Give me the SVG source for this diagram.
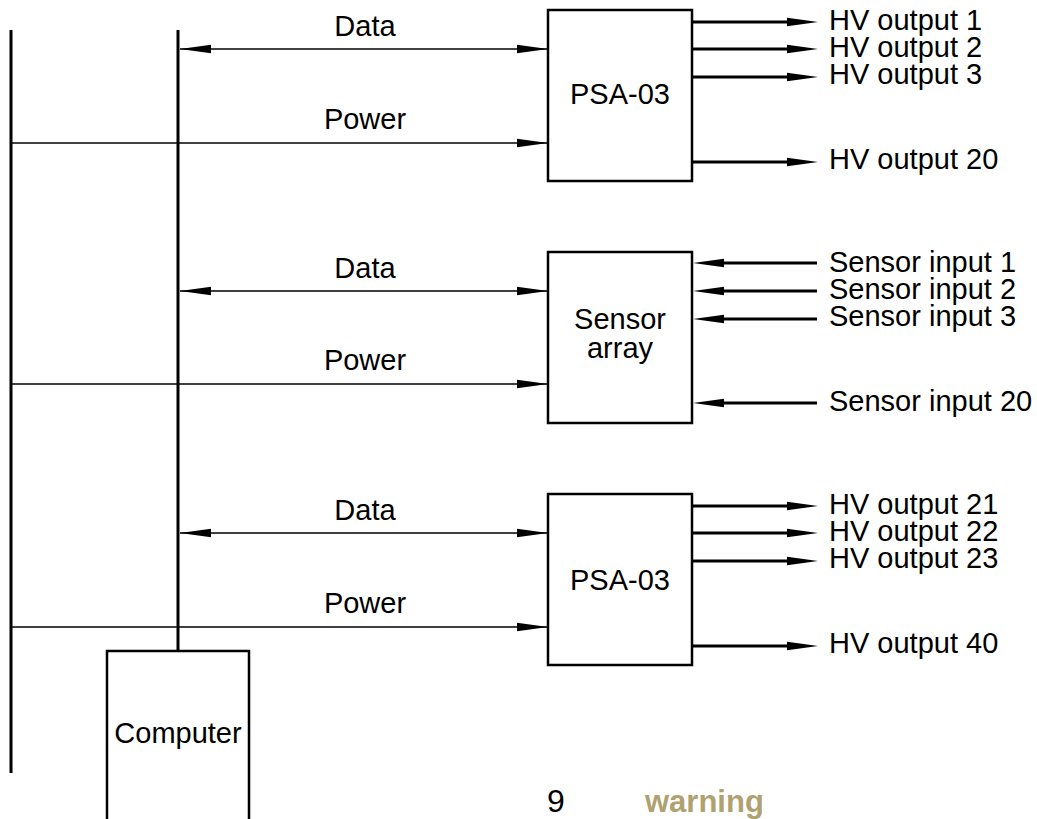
<svg xmlns="http://www.w3.org/2000/svg" xmlns:xlink="http://www.w3.org/1999/xlink" width="1037" height="819" viewBox="0 0 1037 819">
<style>
text{font-family:"Liberation Sans",Arial,sans-serif;font-size:29px;fill:#000}
.c{text-anchor:middle}
.box{fill:#fff;stroke:#000;stroke-width:2.5}
.bus{stroke:#000;stroke-width:3;fill:none}
.thin{stroke:#000;stroke-width:1.4;fill:none}
.thick{stroke:#000;stroke-width:3;fill:none}
.warn{font-weight:bold;fill:#B0A270;font-size:31px}
</style>
<defs>
<path id="ah" d="M0,0 L-31,-4.2 L-31,4.2 Z" fill="#000"/>
</defs>
<g id="connectors">
  <line class="bus" x1="11" y1="30" x2="11" y2="773"/>
  <line class="bus" x1="178" y1="30" x2="178" y2="651"/>
  <line class="thin" x1="180" y1="49" x2="548" y2="49"/>
  <use xlink:href="#ah" transform="translate(180,49) scale(-1,1)"/>
  <use xlink:href="#ah" transform="translate(548,49)"/>
  <line class="thin" x1="11" y1="143" x2="548" y2="143"/>
  <use xlink:href="#ah" transform="translate(548,143)"/>
  <line class="thick" x1="692" y1="22" x2="790" y2="22"/><use xlink:href="#ah" transform="translate(818,22)"/>
  <line class="thick" x1="692" y1="49" x2="790" y2="49"/><use xlink:href="#ah" transform="translate(818,49)"/>
  <line class="thick" x1="692" y1="77" x2="790" y2="77"/><use xlink:href="#ah" transform="translate(818,77)"/>
  <line class="thick" x1="692" y1="162" x2="790" y2="162"/><use xlink:href="#ah" transform="translate(818,162)"/>
  <line class="thin" x1="180" y1="291" x2="548" y2="291"/>
  <use xlink:href="#ah" transform="translate(180,291) scale(-1,1)"/>
  <use xlink:href="#ah" transform="translate(548,291)"/>
  <line class="thin" x1="11" y1="384" x2="548" y2="384"/>
  <use xlink:href="#ah" transform="translate(548,384)"/>
  <line class="thick" x1="720" y1="263" x2="817" y2="263"/><use xlink:href="#ah" transform="translate(693,263) scale(-1,1)"/>
  <line class="thick" x1="720" y1="291" x2="817" y2="291"/><use xlink:href="#ah" transform="translate(693,291) scale(-1,1)"/>
  <line class="thick" x1="720" y1="319" x2="817" y2="319"/><use xlink:href="#ah" transform="translate(693,319) scale(-1,1)"/>
  <line class="thick" x1="720" y1="403" x2="817" y2="403"/><use xlink:href="#ah" transform="translate(693,403) scale(-1,1)"/>
  <line class="thin" x1="180" y1="533" x2="548" y2="533"/>
  <use xlink:href="#ah" transform="translate(180,533) scale(-1,1)"/>
  <use xlink:href="#ah" transform="translate(548,533)"/>
  <line class="thin" x1="11" y1="627" x2="548" y2="627"/>
  <use xlink:href="#ah" transform="translate(548,627)"/>
  <line class="thick" x1="692" y1="506" x2="790" y2="506"/><use xlink:href="#ah" transform="translate(818,506)"/>
  <line class="thick" x1="692" y1="533" x2="790" y2="533"/><use xlink:href="#ah" transform="translate(818,533)"/>
  <line class="thick" x1="692" y1="561" x2="790" y2="561"/><use xlink:href="#ah" transform="translate(818,561)"/>
  <line class="thick" x1="692" y1="646" x2="790" y2="646"/><use xlink:href="#ah" transform="translate(818,646)"/>
  <text class="c" x="365" y="36">Data</text>
  <text class="c" x="365" y="129">Power</text>
  <text class="c" x="365" y="278">Data</text>
  <text class="c" x="365" y="370">Power</text>
  <text class="c" x="365" y="520">Data</text>
  <text class="c" x="365" y="613">Power</text>
</g>
<g id="psa1">
  <rect class="box" x="548" y="10" width="144" height="171"/>
  <text class="c" x="620" y="104">PSA-03</text>
</g>
<g id="psa1-outputs">
  <text x="829" y="30">HV output 1</text>
  <text x="829" y="57">HV output 2</text>
  <text x="829" y="84">HV output 3</text>
  <text x="829" y="169">HV output 20</text>
</g>
<g id="sensor">
  <rect class="box" x="548" y="252" width="144" height="171"/>
  <text class="c" x="620" y="329">Sensor</text>
  <text class="c" x="620" y="358">array</text>
</g>
<g id="sensor-inputs">
  <text x="829" y="272">Sensor input 1</text>
  <text x="829" y="299">Sensor input 2</text>
  <text x="829" y="326">Sensor input 3</text>
  <text x="829" y="411">Sensor input 20</text>
</g>
<g id="psa2">
  <rect class="box" x="548" y="494" width="144" height="171"/>
  <text class="c" x="620" y="590">PSA-03</text>
</g>
<g id="psa2-outputs">
  <text x="829" y="514">HV output 21</text>
  <text x="829" y="541">HV output 22</text>
  <text x="829" y="568">HV output 23</text>
  <text x="829" y="653">HV output 40</text>
</g>
<g id="computer">
  <path class="box" d="M107,830 V651 H249 V830"/>
  <text class="c" x="178" y="743">Computer</text>
</g>
<g id="footer">
  <text x="547" y="812" style="font-size:32px">9</text>
  <text class="warn" x="645" y="812">warning</text>
</g>
</svg>
